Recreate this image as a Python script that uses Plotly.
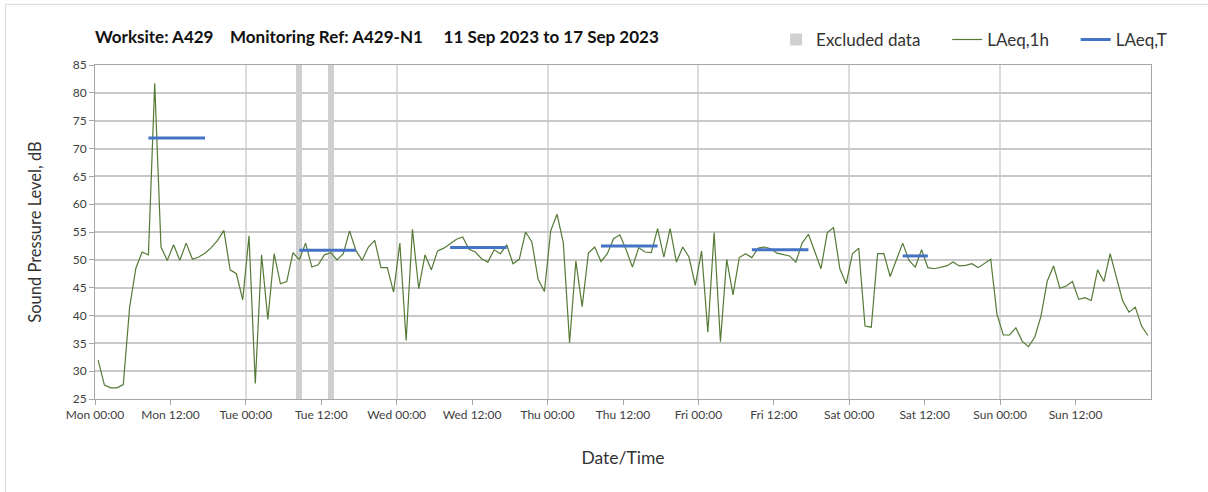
import pandas as pd
import plotly.graph_objects as go

# ---------------- data ----------------
period_start = "2023-09-11 00:00"
n_hours = 168

# hourly LAeq,1h values (dB), Mon 00:00 .. Sun 23:00
laeq_1h = [
    32.0, 27.5, 27.0, 27.0, 27.6, 41.4, 48.5, 51.4, 50.9, 81.7, 52.3, 49.9,
    52.7, 49.9, 53.0, 50.1, 50.5, 51.2, 52.2, 53.5, 55.3, 48.2, 47.5, 42.8,
    54.3, 27.8, 50.9, 39.3, 51.1, 45.7, 46.1, 51.3, 50.0, 53.0, 48.7, 49.1,
    50.9, 51.3, 50.0, 51.1, 55.2, 51.7, 49.9, 52.3, 53.5, 48.6, 48.6, 44.2,
    53.0, 35.5, 55.5, 44.8, 50.9, 48.2, 51.6, 52.1, 52.9, 53.7, 54.1, 51.9,
    51.4, 50.2, 49.6, 51.8, 51.1, 52.7, 49.3, 50.1, 55.0, 53.2, 46.5, 44.3,
    55.2, 58.2, 53.1, 35.1, 49.8, 41.6, 51.2, 52.3, 49.7, 51.1, 53.8, 54.5,
    51.8, 48.7, 52.2, 51.4, 51.3, 55.6, 50.5, 55.6, 49.6, 52.3, 50.5, 45.4,
    51.6, 37.0, 54.9, 35.3, 50.1, 43.7, 50.4, 51.1, 50.4, 52.1, 52.3, 52.0,
    51.2, 50.9, 50.7, 49.6, 53.0, 54.6, 51.4, 48.4, 54.9, 55.8, 48.4, 45.7,
    51.1, 52.1, 38.1, 37.9, 51.1, 51.1, 47.0, 50.0, 53.0, 49.9, 48.7, 51.8,
    48.6, 48.4, 48.6, 48.9, 49.6, 48.9, 49.0, 49.3, 48.6, 49.3, 50.1, 40.2,
    36.5, 36.5, 37.8, 35.4, 34.4, 36.1, 39.9, 46.2, 48.9, 44.9, 45.3, 46.1,
    42.9, 43.2, 42.7, 48.2, 46.1, 51.1, 46.9, 42.6, 40.6, 41.5, 38.1, 36.4,
]

# excluded 1-hour intervals (hour index from start)
excluded_hours = [32, 37]

# LAeq,T periods: start hour index, end hour index (exclusive), level dB
laeqT_start = [8, 32, 56, 80, 104, 128]
laeqT_end = [18, 42, 66, 90, 114, 133]
laeqT_value = [71.9, 51.7, 52.2, 52.5, 51.8, 50.7]

y_min, y_max = 25, 85
day_labels = ["Mon", "Tue", "Wed", "Thu", "Fri", "Sat", "Sun"]

# ---------------- derived ----------------
t0 = pd.Timestamp(period_start)
hour = pd.Timedelta(hours=1)
half = pd.Timedelta(minutes=30)
mid_times = [t0 + i * hour + half for i in range(n_hours)]

excl_x = [t0 + h * hour + half for h in excluded_hours]

bx, by = [], []
for s, e, v in zip(laeqT_start, laeqT_end, laeqT_value):
    bx += [t0 + s * hour + half, t0 + (e - 1) * hour + half, None]
    by += [v, v, None]

tickvals, ticktext = [], []
for d, name in enumerate(day_labels):
    for hh in (0, 12):
        tickvals.append(t0 + pd.Timedelta(hours=24 * d + hh))
        ticktext.append(f"{name} {hh:02d}:00")
tickvals.append(t0 + n_hours * hour)
ticktext.append("")
day_lines = [t0 + pd.Timedelta(days=d) for d in range(8)]

FONT = "Lato"
nb = "\u00a0"

fig = go.Figure()
fig.add_trace(go.Bar(
    x=excl_x, y=[y_max - y_min] * len(excl_x), base=y_min,
    width=3600000, marker=dict(color="#d0d0d0", line=dict(width=0)),
    name="Excluded data" + nb * 5,
))
fig.add_trace(go.Scatter(
    x=mid_times, y=laeq_1h, mode="lines",
    line=dict(color="#557a36", width=1.2), name="LAeq,1h" + nb * 5,
))
fig.add_trace(go.Scatter(
    x=bx, y=by, mode="lines", connectgaps=False,
    line=dict(color="#4472C4", width=3), name="LAeq,T",
))

title = (f"<b>Worksite: A429{nb*4}Monitoring Ref: A429-N1{nb*5}"
         f"11 Sep 2023 to 17 Sep 2023</b>")

fig.update_layout(
    width=1208, height=492,
    margin=dict(l=95, r=57, t=65, b=93),
    paper_bgcolor="white", plot_bgcolor="white",
    font=dict(family=FONT, color="#404040", size=12),
    title=dict(text=title, x=95 / 1208, xanchor="left", y=1 - 37 / 492,
               yanchor="middle", font=dict(family=FONT, size=17, color="#111")),
    showlegend=True,
    legend=dict(orientation="h", x=1.02, xanchor="right", y=1.075,
                yanchor="middle", font=dict(family=FONT, size=17, color="#333"),
                bgcolor="rgba(0,0,0,0)", itemwidth=30),
    bargap=0,
    xaxis=dict(
        type="date",
        range=[t0, t0 + n_hours * hour],
        tickmode="array", tickvals=tickvals, ticktext=ticktext,
        ticks="outside", ticklen=5, tickcolor="#a6a6a6",
        showgrid=False,
        minor=dict(tickmode="array", tickvals=day_lines, ticks="inside",
                   ticklen=0, showgrid=True, gridcolor="#dcdcdc", gridwidth=1.5),
        showline=True, linecolor="#a6a6a6", linewidth=1, mirror=True,
        tickfont=dict(family=FONT, size=12, color="#404040"),
        title=dict(text="Date/Time", standoff=30,
                   font=dict(family=FONT, size=17.5, color="#333")),
        automargin=False, zeroline=False,
    ),
    yaxis=dict(
        range=[y_min, y_max], dtick=5, tick0=25,
        ticks="outside", ticklen=5, tickcolor="#a6a6a6",
        showgrid=True, gridcolor="#c8c8c8", gridwidth=1.5,
        showline=True, linecolor="#a6a6a6", linewidth=1, mirror=True,
        tickfont=dict(family=FONT, size=12, color="#404040"),
        title=dict(text="Sound Pressure Level, dB", standoff=26,
                   font=dict(family=FONT, size=16.5, color="#333")),
        automargin=False, zeroline=False,
    ),
    shapes=[dict(type="rect", xref="paper", yref="paper",
                 x0=-0.0848, x1=1.061, y0=-0.302, y1=1.1817,
                 line=dict(color="#d9d9d9", width=1), layer="below")],
)

fig.write_html("out.html",
               config={"displayModeBar": False},
               post_script="document.body.style.margin='0';"
                           "document.body.style.overflow='hidden';")
